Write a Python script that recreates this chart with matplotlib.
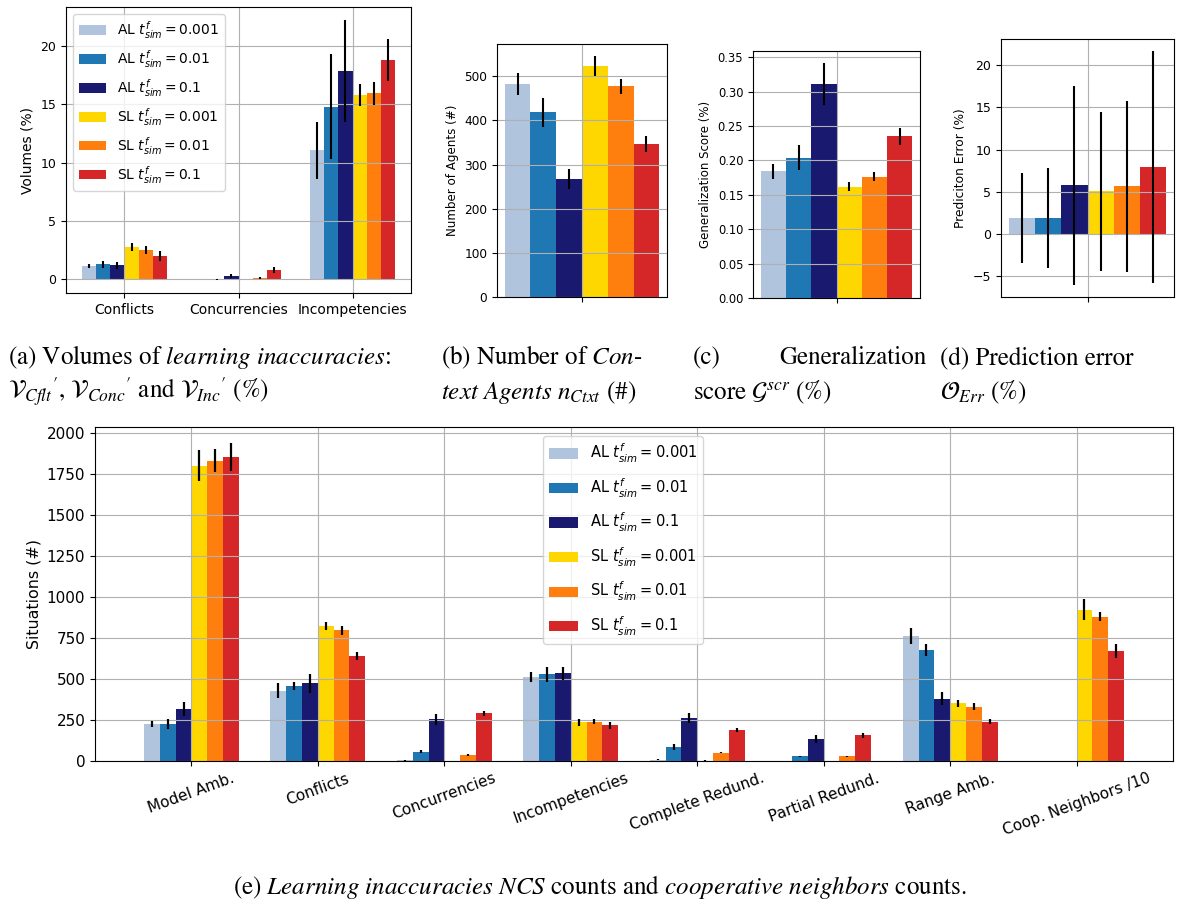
import numpy as np
import matplotlib
matplotlib.use("Agg")
import matplotlib.pyplot as plt

# series labels and colours
labels = [r"AL $t^f_{sim}=0.001$", r"AL $t^f_{sim}=0.01$", r"AL $t^f_{sim}=0.1$",
          r"SL $t^f_{sim}=0.001$", r"SL $t^f_{sim}=0.01$", r"SL $t^f_{sim}=0.1$"]
colors = ["lightsteelblue", "tab:blue", "midnightblue", "gold", "tab:orange", "tab:red"]

# (a) volumes of learning inaccuracies (%)
vol_groups = ["Conflicts", "Concurrencies", "Incompetencies"]
vol_al_001 = [1.14, 0.0, 11.05]
vol_al_01 = [1.3, 0.01, 14.77]
vol_al_1 = [1.2, 0.28, 17.84]
vol_sl_001 = [2.76, 0.0, 15.77]
vol_sl_01 = [2.5, 0.11, 15.94]
vol_sl_1 = [2.0, 0.8, 18.75]
vol_al_001_err = [0.2, 0.0, 2.47]
vol_al_01_err = [0.3, 0.06, 4.5]
vol_al_1_err = [0.3, 0.2, 4.37]
vol_sl_001_err = [0.35, 0.0, 0.94]
vol_sl_01_err = [0.33, 0.08, 0.97]
vol_sl_1_err = [0.4, 0.25, 1.8]

# (b) number of context agents
agents = [483, 419, 267, 523, 477, 346]
agents_err = [25, 33, 23, 23, 16, 18]

# (c) generalization score
gen_score = [0.184, 0.204, 0.311, 0.162, 0.1765, 0.235]
gen_score_err = [0.0115, 0.018, 0.031, 0.0068, 0.006, 0.0123]

# (d) prediction error
pred_err = [1.93, 1.93, 5.76, 5.09, 5.64, 7.97]
pred_err_std = [5.33, 5.9, 11.8, 9.4, 10.06, 13.7]

# (e) NCS counts and cooperative neighbors
ncs_groups = ["Model Amb.", "Conflicts", "Concurrencies", "Incompetencies",
              "Complete Redund.", "Partial Redund.", "Range Amb.", "Coop. Neighbors /10"]
ncs_al_001 = [227, 430, 6, 513, 8, 0, 761, 0]
ncs_al_01 = [227, 458, 57, 529, 85, 28, 677, 0]
ncs_al_1 = [316, 473, 254, 535, 262, 134, 381, 0]
ncs_sl_001 = [1803, 824, 0, 235, 3, 0, 351, 923]
ncs_sl_01 = [1832, 797, 37, 241, 51, 28, 331, 880]
ncs_sl_1 = [1854, 641, 290, 219, 191, 156, 241, 669]
ncs_al_001_err = [19, 43, 3, 31, 4, 0, 49, 0]
ncs_al_01_err = [32, 26, 9, 46, 17, 4, 37, 0]
ncs_al_1_err = [44, 59, 32, 40, 30, 23, 38, 0]
ncs_sl_001_err = [93, 23, 0, 23, 3, 0, 20, 63]
ncs_sl_01_err = [69, 28, 8, 16, 4, 3, 21, 27]
ncs_sl_1_err = [87, 23, 18, 22, 12, 15, 15, 42]

W, H = 1199, 908
fig = plt.figure(figsize=(W / 100, H / 100), dpi=100)


def axes_px(left, top, right, bottom):
    return fig.add_axes([left / W, 1 - bottom / H, (right - left) / W, (bottom - top) / H])


def grouped_bars(ax, n_groups, series, errors, width=0.125, elw=1.5):
    x = np.arange(n_groups)
    for i, (vals, errs) in enumerate(zip(series, errors)):
        ax.bar(x + (i - 2.5) * width, vals, width, yerr=errs, color=colors[i],
               label=labels[i], ecolor="black", error_kw={"elinewidth": elw})
    ax.grid(True)
    return x


# (a)
ax_a = axes_px(66, 7, 411, 293)
xa = grouped_bars(ax_a, 3,
                  [vol_al_001, vol_al_01, vol_al_1, vol_sl_001, vol_sl_01, vol_sl_1],
                  [vol_al_001_err, vol_al_01_err, vol_al_1_err,
                   vol_sl_001_err, vol_sl_01_err, vol_sl_1_err])
ax_a.set_xticks(xa)
ax_a.set_xticklabels(vol_groups, fontsize=10)
ax_a.tick_params(axis="y", labelsize=9)
ax_a.set_ylabel("Volumes (%)", fontsize=10)
ax_a.legend(loc="upper left", fontsize=10)

# (b)
ax_b = axes_px(497, 44, 667, 297)
xb = grouped_bars(ax_b, 1, [[v] for v in agents], [[e] for e in agents_err])
ax_b.set_xticks(xb)
ax_b.set_xticklabels([""])
ax_b.tick_params(axis="y", labelsize=8.7)
ax_b.set_ylabel("Number of Agents (#)", fontsize=8.6)

# (c)
ax_c = axes_px(753, 51, 920, 298)
xc = grouped_bars(ax_c, 1, [[v] for v in gen_score], [[e] for e in gen_score_err])
ax_c.set_xticks(xc)
ax_c.set_xticklabels([""])
ax_c.tick_params(axis="y", labelsize=8.3)
ax_c.set_ylabel("Generalization Score (%)", fontsize=8.5)

# (d)
ax_d = axes_px(1001, 39, 1174, 297)
xd = grouped_bars(ax_d, 1, [[v] for v in pred_err], [[e] for e in pred_err_std])
ax_d.set_xticks(xd)
ax_d.set_xticklabels([""])
ax_d.tick_params(axis="y", labelsize=9)
ax_d.set_ylabel("Prediciton Error (%)", fontsize=8.8)

# (e)
ax_e = axes_px(95, 427, 1173, 761)
xe = grouped_bars(ax_e, len(ncs_groups),
                  [ncs_al_001, ncs_al_01, ncs_al_1, ncs_sl_001, ncs_sl_01, ncs_sl_1],
                  [ncs_al_001_err, ncs_al_01_err, ncs_al_1_err,
                   ncs_sl_001_err, ncs_sl_01_err, ncs_sl_1_err], elw=1.6)
ax_e.set_xticks(xe)
ax_e.set_xticklabels(ncs_groups, rotation=20, fontsize=11)
ax_e.tick_params(axis="y", labelsize=11)
ax_e.set_ylabel("Situations (#)", fontsize=11.4)
ax_e.legend(loc="upper left", bbox_to_anchor=((543 - 95) / 1078, (761 - 436) / 334),
            borderaxespad=0, fontsize=10.5, labelspacing=0.78)

# captions
cap = dict(family="STIXGeneral", math_fontfamily="stix", fontsize=18, va="baseline")


def caption(x, y, s, **kw):
    fig.text(x / W, 1 - y / H, s, **cap, **kw)


caption(8, 364, r"(a) Volumes of $\mathit{learning\ inaccuracies}$:")
caption(8, 399, r"${\mathcal{V}_{Cflt}}^{\prime}$, ${\mathcal{V}_{Conc}}^{\prime}$ and "
                r"${\mathcal{V}_{Inc}}^{\prime}$ (%)")
caption(441, 364, r"(b) Number of $\mathit{Con}$-")
caption(441, 399, r"$\mathit{text\ Agents}\ n_{Ctxt}$ (#)")
caption(693, 364, r"(c)")
caption(927, 364, r"Generalization", ha="right")
caption(693, 399, r"score $\mathcal{G}^{scr}$ (%)")
caption(940, 364, r"(d) Prediction error")
caption(940, 399, r"$\mathcal{O}_{Err}$ (%)")
caption(600, 894, r"(e) $\mathit{Learning\ inaccuracies\ NCS}$ counts and "
                  r"$\mathit{cooperative\ neighbors}$ counts.", ha="center")

fig.savefig("out.png", dpi=100)
